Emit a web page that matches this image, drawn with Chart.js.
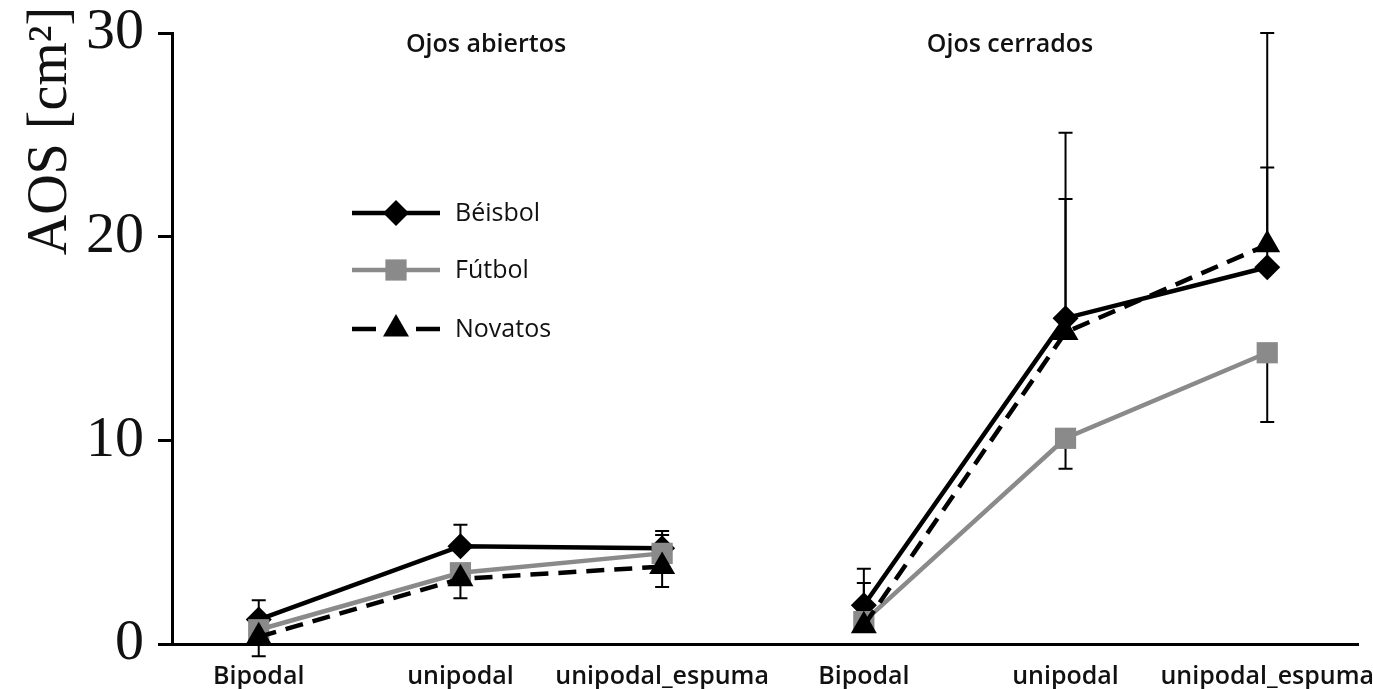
<!DOCTYPE html>
<html>
<head>
<meta charset="utf-8">
<script src="https://cdn.jsdelivr.net/npm/chart.js@4.4.1/dist/chart.umd.min.js"></script>
<style>
html,body{margin:0;padding:0;background:#fff;}
#wrap{width:1373px;height:689px;position:relative;}
</style>
</head>
<body>
<div id="wrap"><canvas id="c" width="1373" height="689"></canvas></div>
<script>
// ---- Data ----
const categories = ["Bipodal", "unipodal", "unipodal_espuma", "Bipodal", "unipodal", "unipodal_espuma"];
const groupTitles = ["Ojos abiertos", "Ojos cerrados"];
const yTicks = [0, 10, 20, 30];
const seriesNames = ["Béisbol", "Fútbol", "Novatos"];

const beisbol = [1.2, 4.8, 4.7, 1.9, 16.0, 18.5];
const futbol  = [0.7, 3.5, 4.45, 1.1, 10.1, 14.3];
const novatos = [0.35, 3.2, 3.8, 0.9, 15.3, 19.6];

// one-sided error magnitudes (positive = up, negative = down), null = none
const beisbolErr = [0.95, 1.05, 0.85, 1.8, 9.1, 4.9];
const futbolErr  = [null, null, 0.9, null, -1.5, -3.4];
const novatosErr = [-0.95, -0.95, -1.0, 2.1, 6.55, 10.4];

const toPts = arr => arr.map((v, i) => ({x: i, y: v}));
const gapAfter = 2;

const styles = [
  {color: '#000000', point: 'rectRot', radius: 13, dash: []},
  {color: '#8a8a8a', point: 'rect', radius: 15, dash: []},
  {color: '#000000', point: 'triangle', radius: 15, dash: [18, 10]}
];
const values = [beisbol, futbol, novatos];
const errs = [beisbolErr, futbolErr, novatosErr];

const datasets = values.map((vals, k) => ({
  label: seriesNames[k],
  data: toPts(vals),
  borderColor: styles[k].color,
  backgroundColor: styles[k].color,
  borderWidth: 4.5,
  borderDash: styles[k].dash,
  pointStyle: styles[k].point,
  pointRadius: styles[k].radius,
  pointBorderWidth: 0,
  pointBackgroundColor: styles[k].color,
  tension: 0,
  order: 3 - k,
  segment: {
    borderColor: ctx => ctx.p0DataIndex === gapAfter ? 'rgba(0,0,0,0)' : styles[k].color
  }
}));

const errorBars = {
  id: 'errorBars',
  beforeDatasetsDraw(chart) {
    const {ctx, scales: {x, y}} = chart;
    ctx.save();
    ctx.strokeStyle = '#000';
    ctx.lineWidth = 2;
    errs.forEach((e, k) => {
      e.forEach((d, i) => {
        if (d === null) return;
        const px = x.getPixelForValue(i);
        const y0 = y.getPixelForValue(values[k][i]);
        const y1 = y.getPixelForValue(values[k][i] + d);
        ctx.beginPath();
        ctx.moveTo(px, y0); ctx.lineTo(px, y1);
        ctx.moveTo(px - 7, y1); ctx.lineTo(px + 7, y1);
        ctx.stroke();
      });
    });
    ctx.restore();
  }
};

const annotations = {
  id: 'annotations',
  afterDraw(chart) {
    const {ctx} = chart;
    ctx.save();
    // y axis title
    ctx.fillStyle = '#111';
    ctx.font = '56px "Liberation Serif", "DejaVu Serif", serif';
    ctx.translate(66, 131);
    ctx.rotate(-Math.PI / 2);
    ctx.textAlign = 'center';
    ctx.textBaseline = 'alphabetic';
    ctx.fillText('AOS [cm²]', 0, 0);
    ctx.restore();

    ctx.save();
    // group titles
    ctx.fillStyle = '#111';
    ctx.font = '600 25px "Open Sans", sans-serif';
    ctx.textAlign = 'center';
    ctx.textBaseline = 'alphabetic';
    ctx.fillText(groupTitles[0], 486, 52);
    ctx.fillText(groupTitles[1], 1010, 52);

    // legend
    const rows = [213, 270, 329];
    ctx.textBaseline = 'middle';
    seriesNames.forEach((name, k) => {
      const st = styles[k];
      const yy = rows[k];
      ctx.strokeStyle = st.color;
      ctx.lineWidth = 4.5;
      ctx.beginPath();
      if (st.dash.length) {
        ctx.moveTo(352, yy); ctx.lineTo(376, yy);
        ctx.moveTo(416, yy); ctx.lineTo(440, yy);
      } else {
        ctx.moveTo(352, yy); ctx.lineTo(440, yy);
      }
      ctx.stroke();
      ctx.fillStyle = st.color;
      Chart.helpers.drawPoint(ctx, {pointStyle: st.point, radius: st.radius, borderWidth: 0}, 396, yy);
      ctx.fillStyle = '#111';
      ctx.textAlign = 'left';
      ctx.font = '500 25px "Open Sans", sans-serif';
      ctx.fillText(name, 455, yy + 1);
    });
    ctx.restore();
  }
};

new Chart(document.getElementById('c'), {
  type: 'line',
  data: {datasets},
  options: {
    responsive: false,
    animation: false,
    events: [],
    layout: {padding: {top: 33, right: 13, left: 0, bottom: 0}},
    plugins: {legend: {display: false}, tooltip: {enabled: false}},
    scales: {
      x: {
        type: 'linear',
        min: -0.43,
        max: 5.45,
        afterFit: s => { s.height = 45; s.paddingLeft = 0; s.paddingRight = 0; },
        grid: {display: false},
        border: {display: true, color: '#000', width: 3},
        ticks: {
          stepSize: 1,
          includeBounds: false,
          autoSkip: false,
          maxRotation: 0,
          padding: 10,
          color: '#111',
          font: {family: '"Open Sans", sans-serif', size: 25, weight: '600'},
          callback: v => Number.isInteger(v) ? categories[v] : ''
        }
      },
      y: {
        min: 0,
        max: 30,
        afterFit: s => { s.width = 172; s.paddingTop = 0; s.paddingBottom = 0; },
        afterBuildTicks: s => { s.ticks = yTicks.map(v => ({value: v})); },
        grid: {display: true, drawOnChartArea: false, drawTicks: true, tickLength: 14, tickWidth: 3, tickColor: '#000'},
        border: {display: true, color: '#000', width: 3},
        ticks: {
          padding: 14,
          color: '#111',
          font: {family: '"Liberation Serif", serif', size: 58}
        }
      }
    }
  },
  plugins: [errorBars, annotations]
});
</script>
</body>
</html>
